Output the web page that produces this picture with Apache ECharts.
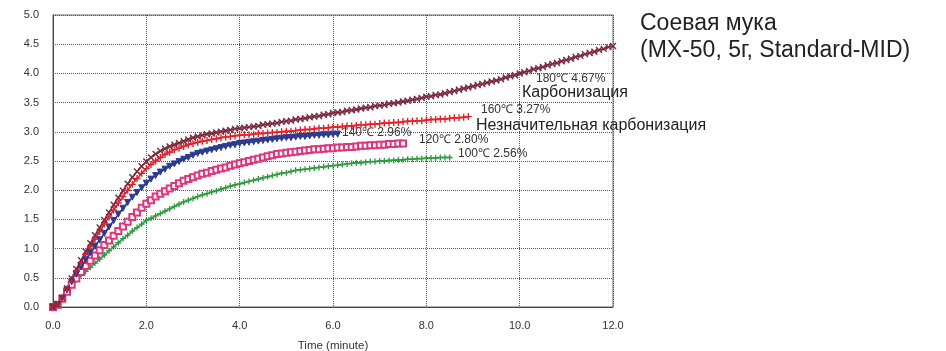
<!DOCTYPE html>
<html>
<head>
<meta charset="utf-8">
<script src="https://cdn.jsdelivr.net/npm/echarts@6/dist/echarts.min.js"></script>
<style>
html,body{margin:0;padding:0;background:#fff;}
#chart{width:946px;height:351px;}
</style>
</head>
<body>
<div id="chart"></div>
<script>
// Time axis samples (minutes)
var timeMinutes = [
0.0,0.1,0.2,0.3,0.4,0.5,0.6,0.7,0.8,0.9,1.0,
1.1,1.2,1.3,1.4,1.5,1.6,1.7,1.8,1.9,2.0,
2.1,2.2,2.3,2.4,2.5,2.6,2.7,2.8,2.9,3.0,
3.1,3.2,3.3,3.4,3.5,3.6,3.7,3.8,3.9,4.0,
4.1,4.2,4.3,4.4,4.5,4.6,4.7,4.8,4.9,5.0,
5.1,5.2,5.3,5.4,5.5,5.6,5.7,5.8,5.9,6.0,
6.1,6.2,6.3,6.4,6.5,6.6,6.7,6.8,6.9,7.0,
7.1,7.2,7.3,7.4,7.5,7.6,7.7,7.8,7.9,8.0,
8.1,8.2,8.3,8.4,8.5,8.6,8.7,8.8,8.9,9.0,
9.1,9.2,9.3,9.4,9.5,9.6,9.7,9.8,9.9,10.0,
10.1,10.2,10.3,10.4,10.5,10.6,10.7,10.8,10.9,11.0,
11.1,11.2,11.3,11.4,11.5,11.6,11.7,11.8,11.9,12.0
];

var values180 = [
0,0.04,0.16,0.32,0.49,0.65,0.8,0.95,1.09,1.23,1.36,
1.49,1.62,1.75,1.87,1.99,2.11,2.22,2.32,2.41,2.49,
2.56,2.62,2.67,2.71,2.75,2.78,2.81,2.84,2.87,2.9,
2.92,2.94,2.96,2.97,2.99,3.0,3.02,3.03,3.05,3.06,
3.07,3.08,3.09,3.1,3.12,3.13,3.14,3.15,3.17,3.18,
3.19,3.21,3.22,3.23,3.25,3.26,3.27,3.29,3.3,3.32,
3.33,3.34,3.36,3.37,3.38,3.4,3.41,3.42,3.44,3.45,
3.46,3.48,3.49,3.5,3.52,3.53,3.55,3.56,3.58,3.6,
3.61,3.63,3.64,3.66,3.68,3.7,3.72,3.74,3.76,3.78,
3.8,3.82,3.84,3.86,3.88,3.9,3.93,3.95,3.97,4.0,
4.02,4.04,4.07,4.09,4.11,4.14,4.16,4.18,4.21,4.23,
4.25,4.28,4.3,4.33,4.35,4.37,4.4,4.42,4.45,4.47
];

var values160 = [
0,0.04,0.16,0.31,0.47,0.62,0.76,0.9,1.03,1.16,1.29,
1.42,1.54,1.66,1.78,1.89,2.0,2.1,2.2,2.29,2.37,
2.44,2.5,2.56,2.61,2.65,2.69,2.72,2.75,2.78,2.8,
2.82,2.84,2.85,2.87,2.88,2.9,2.91,2.92,2.93,2.94,
2.95,2.95,2.96,2.97,2.97,2.98,2.99,2.99,3.0,3.01,
3.01,3.02,3.03,3.04,3.04,3.05,3.06,3.06,3.07,3.08,
3.08,3.09,3.1,3.1,3.11,3.12,3.12,3.13,3.13,3.14,
3.15,3.15,3.16,3.16,3.17,3.18,3.18,3.19,3.19,3.2,
3.21,3.21,3.22,3.22,3.23,3.24,3.24,3.25,3.26
];

var values140 = [
0,0.04,0.15,0.29,0.43,0.56,0.69,0.81,0.93,1.04,1.15,
1.26,1.37,1.48,1.59,1.69,1.79,1.88,1.96,2.04,2.12,
2.19,2.25,2.31,2.36,2.41,2.45,2.49,2.53,2.56,2.6,
2.63,2.65,2.67,2.69,2.71,2.73,2.75,2.77,2.78,2.8,
2.81,2.82,2.83,2.84,2.85,2.86,2.87,2.88,2.89,2.9,
2.9,2.91,2.92,2.92,2.93,2.94,2.94,2.95,2.95,2.96,2.96
];

var values120 = [
0,0.04,0.14,0.26,0.38,0.49,0.6,0.7,0.79,0.88,0.97,
1.06,1.14,1.22,1.3,1.38,1.46,1.54,1.62,1.7,1.77,
1.83,1.89,1.94,1.98,2.03,2.07,2.12,2.16,2.19,2.22,
2.25,2.28,2.3,2.33,2.35,2.37,2.39,2.42,2.44,2.46,
2.48,2.5,2.52,2.54,2.56,2.58,2.6,2.62,2.63,2.64,
2.65,2.66,2.67,2.68,2.69,2.7,2.7,2.71,2.72,2.72,
2.73,2.73,2.74,2.74,2.75,2.76,2.76,2.77,2.77,2.78,
2.78,2.79,2.79,2.8,2.8
];

var values100 = [
0,0.04,0.14,0.26,0.37,0.47,0.54,0.61,0.68,0.75,0.82,
0.89,0.96,1.03,1.1,1.17,1.23,1.3,1.36,1.42,1.48,
1.52,1.56,1.6,1.64,1.68,1.72,1.76,1.8,1.83,1.86,
1.89,1.92,1.94,1.97,1.99,2.02,2.04,2.07,2.09,2.11,
2.13,2.15,2.17,2.19,2.21,2.23,2.25,2.27,2.29,2.3,
2.32,2.34,2.35,2.36,2.37,2.38,2.39,2.4,2.41,2.42,
2.43,2.44,2.45,2.46,2.47,2.47,2.48,2.49,2.49,2.5,
2.5,2.51,2.51,2.52,2.52,2.53,2.53,2.54,2.54,2.55,
2.55,2.55,2.56,2.56,2.56
];

var xTicks = [0, 2, 4, 6, 8, 10, 12];
var yTicks = [0, 0.5, 1, 1.5, 2, 2.5, 3, 3.5, 4, 4.5, 5];

var seriesNames = ['180℃ 4.67%', '160℃ 3.27%', '140℃ 2.96%', '120℃ 2.80%', '100℃ 2.56%'];
var seriesColors = ['#7a2b3d', '#e5222c', '#2b3b92', '#e0357b', '#2f9a40'];

function pairs(vals) {
  var out = [];
  for (var i = 0; i < vals.length; i++) out.push([timeMinutes[i], vals[i]]);
  return out;
}

var X_PATH = 'path://M0 0L10 10M10 0L0 10';
var PLUS_PATH = 'path://M5 0L5 10M0 5L10 5';

function mkSeries(name, vals, color, symbol, size, bw, opts) {
  var s = {
    name: name,
    type: 'line',
    data: pairs(vals),
    showSymbol: true,
    showAllSymbol: true,
    symbol: symbol,
    symbolSize: size,
    lineStyle: { color: color, width: 1.6 },
    itemStyle: { color: color, borderColor: color, borderWidth: bw },
    z: 3,
    silent: true
  };
  if (opts) for (var k in opts) s[k] = opts[k];
  return s;
}

var chart = echarts.init(document.getElementById('chart'), null, { renderer: 'canvas' });

var labelFont = '12px "Liberation Sans", Arial, sans-serif';
var bigFont = '16px "Liberation Sans", Arial, sans-serif';
var titleFont = '23px "Liberation Sans", Arial, sans-serif';

chart.setOption({
  animation: false,
  backgroundColor: '#ffffff',
  grid: {
    left: 53, right: 333, top: 15, bottom: 44,
    containLabel: false, outerBoundsMode: 'none',
    show: true, borderColor: '#666', borderWidth: 1, backgroundColor: '#fff'
  },
  xAxis: {
    type: 'value', min: 0, max: 12, interval: 2,
    name: 'Time (minute)', nameLocation: 'middle', nameGap: 33,
    nameTextStyle: { color: '#333', fontSize: 11.5, fontFamily: 'Liberation Sans' },
    axisLine: { show: true, lineStyle: { color: '#444', width: 1 } },
    axisTick: { show: false },
    axisLabel: { color: '#333', fontSize: 11, margin: 13, fontFamily: 'Liberation Sans',
      formatter: function (v) { return v.toFixed(1); } },
    splitLine: { show: true, lineStyle: { color: '#555', type: [1, 1], width: 1 } }
  },
  yAxis: {
    type: 'value', min: 0, max: 5, interval: 0.5,
    axisLine: { show: true, lineStyle: { color: '#444', width: 1 } },
    axisTick: { show: false },
    axisLabel: { color: '#333', fontSize: 11, margin: 14, fontFamily: 'Liberation Sans',
      formatter: function (v) { return v.toFixed(1); } },
    splitLine: { show: true, lineStyle: { color: '#555', type: [1, 1], width: 1 } }
  },
  series: [
    mkSeries(seriesNames[4], values100, seriesColors[4], PLUS_PATH, 6, 1.3),
    mkSeries(seriesNames[3], values120, seriesColors[3], 'emptyRect', 6, 1.3),
    mkSeries(seriesNames[2], values140, seriesColors[2], 'triangle', 6, 1, { symbolRotate: 180 }),
    mkSeries(seriesNames[1], values160, seriesColors[1], PLUS_PATH, 7, 1.4),
    mkSeries(seriesNames[0], values180, seriesColors[0], X_PATH, 6, 1.4)
  ],
  graphic: [
    { type: 'text', x: 640, y: 24, style: { text: 'Соевая мука', font: titleFont, fill: '#222', align: 'left', verticalAlign: 'middle' } },
    { type: 'text', x: 640, y: 51, style: { text: '(MX-50, 5г, Standard-MID)', font: titleFont, fill: '#222', align: 'left', verticalAlign: 'middle' } },
    { type: 'text', x: 536, y: 79, style: { text: seriesNames[0], font: labelFont, fill: '#333', align: 'left', verticalAlign: 'middle' } },
    { type: 'text', x: 522, y: 93, style: { text: 'Карбонизация', font: bigFont, fill: '#222', align: 'left', verticalAlign: 'middle' } },
    { type: 'text', x: 481, y: 110, style: { text: seriesNames[1], font: labelFont, fill: '#333', align: 'left', verticalAlign: 'middle' } },
    { type: 'text', x: 476, y: 126, style: { text: 'Незначительная карбонизация', font: bigFont, fill: '#222', align: 'left', verticalAlign: 'middle' } },
    { type: 'text', x: 342, y: 133, style: { text: seriesNames[2], font: labelFont, fill: '#333', align: 'left', verticalAlign: 'middle' } },
    { type: 'text', x: 419, y: 140, style: { text: seriesNames[3], font: labelFont, fill: '#333', align: 'left', verticalAlign: 'middle' } },
    { type: 'text', x: 458, y: 154, style: { text: seriesNames[4], font: labelFont, fill: '#333', align: 'left', verticalAlign: 'middle' } }
  ]
});
</script>
</body>
</html>
